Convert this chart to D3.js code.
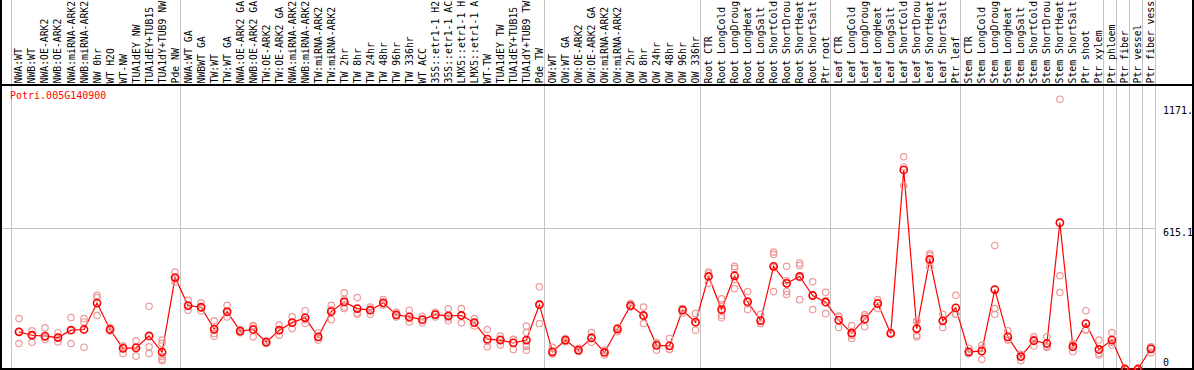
<!DOCTYPE html>
<html>
<head>
<meta charset="utf-8">
<script src="https://cdn.jsdelivr.net/npm/d3@7"></script>
<style>
  body { margin: 0; background: #fff; }
  svg { display: block; }
  text { font-family: "DejaVu Sans Mono", monospace; font-size: 10px; }
</style>
</head>
<body>
<script>
// sample names, one per column
const samples = [
  "NWA:WT", "NWB:WT", "NWA:OE-ARK2", "NWB:OE-ARK2", "NWA:miRNA-ARK2", "NWB:miRNA-ARK2",
  "NW 0hr", "WT H2O", "WT-NW", "TUA1dEY NW", "TUA1dEY+TUB15 NW", "TUA1dY+TUB9 NW", "Pde NW",
  "NWA:WT GA", "NWBWT GA", "TW:WT", "TW:WT GA", "NWA:OE-ARK2 GA", "NWB:OE-ARK2 GA",
  "TW:OE-ARK2", "TW:OE-ARK2 GA", "NWA:miRNA-ARK2", "NWB:miRNA-ARK2", "TW:miRNA-ARK2",
  "TW:miRNA-ARK2", "TW 2hr", "TW 8hr", "TW 24hr", "TW 48hr", "TW 96hr", "TW 336hr", "WT ACC",
  "35S::etr1-1 H2O", "35S::etr1-1 ACC", "LMX5::etr1-1 H2O", "LMX5::etr1-1 ACC", "WT-TW",
  "TUA1dEY TW", "TUA1dEY+TUB15 TW", "TUA1dY+TUB9 TW", "Pde TW",
  "OW:WT", "OW:WT GA", "OW:OE-ARK2", "OW:OE-ARK2 GA", "OW:miRNA-ARK2", "OW:miRNA-ARK2",
  "OW 2hr", "OW 8hr", "OW 24hr", "OW 48hr", "OW 96hr", "OW 336hr",
  "Root CTR", "Root LongCold", "Root LongDrought", "Root LongHeat", "Root LongSalt",
  "Root ShortCold", "Root ShortDrought", "Root ShortHeat", "Root ShortSalt", "Ptr root",
  "Leaf CTR", "Leaf LongCold", "Leaf LongDrought", "Leaf LongHeat", "Leaf LongSalt",
  "Leaf ShortCold", "Leaf ShortDrought", "Leaf ShortHeat", "Leaf ShortSalt", "Ptr leaf",
  "Stem CTR", "Stem LongCold", "Stem LongDrought", "Stem LongHeat", "Stem LongSalt",
  "Stem ShortCold", "Stem ShortDrought", "Stem ShortHeat", "Stem ShortSalt", "Ptr shoot",
  "Ptr xylem", "Ptr phloem", "Ptr fiber", "Ptr vessel", "Ptr fiber vessel"
];

// columns where a new experiment group starts (plus the end)
const groupBreaks = [0, 13, 41, 53, 63, 73, 84, 85, 86, 87, 88];

// mean expression per sample
const means = [
  162, 147, 143, 137, 169, 172, 287, 172, 90, 92, 144, 74, 398,
  276, 269, 174, 250, 165, 172, 117, 169, 202, 223, 140, 250, 292, 263, 256, 288, 236,
  227, 215, 237, 231, 233, 202, 130, 126, 114, 126, 280,
  75, 126, 82, 136, 72, 174, 276, 233, 103, 101, 256, 204,
  403, 259, 406, 293, 211, 447, 373, 403, 320, 291,
  213, 156, 217, 285, 155, 867, 176, 477, 210, 266,
  75, 78, 346, 140, 54, 123, 111, 637, 97, 198, 85,
  126, 0, 0, 88
];

// replicate values per sample
const replicates = [
  [220, 111, 162], [166, 116, 150], [179, 129, 137], [158, 137, 118], [224, 170, 111],
  [220, 205, 95], [321, 311, 233], [181, 165, 172], [100, 100, 68], [123, 98, 56],
  [273, 97, 68], [126, 112, 54, 42, 36], [422, 393, 379],
  [299, 273, 256], [288, 266, 253], [210, 168, 155, 143], [277, 246, 227], [172, 165, 158],
  [189, 186, 140], [123, 117, 111], [191, 169, 147], [227, 203, 176], [254, 215, 198],
  [158, 137, 126], [277, 258, 215], [332, 303, 270, 263], [311, 244, 238], [270, 260, 238],
  [302, 285, 278], [247, 234, 227], [256, 220, 205], [230, 215, 201], [247, 237, 227],
  [262, 222, 210], [263, 235, 201], [220, 200, 187], [172, 121, 97], [143, 130, 104],
  [129, 128, 85], [187, 159, 104, 98, 82], [358, 284, 198],
  [94, 66, 65], [133, 126, 119], [90, 82, 75], [159, 134, 116], [82, 74, 61],
  [181, 178, 162], [285, 273, 270], [270, 231, 198], [115, 111, 82], [133, 86, 85],
  [263, 261, 244], [241, 202, 169],
  [422, 415, 373], [306, 273, 234, 223], [447, 437, 390, 350], [337, 284, 259],
  [238, 198, 198], [509, 499, 443, 337], [447, 384, 337, 324], [461, 451, 398, 302],
  [380, 321, 259], [334, 298, 241],
  [231, 227, 181], [189, 146, 133], [237, 230, 184], [302, 290, 263], [158, 155, 152],
  [924, 880, 798], [210, 208, 147, 140], [502, 494, 468, 444], [238, 211, 181], [321, 239, 238],
  [90, 68, 67], [103, 89, 42], [538, 263, 238], [166, 128, 126], [64, 62, 36],
  [140, 129, 100], [140, 99, 94], [1175, 406, 333], [111, 105, 75], [254, 171, 169],
  [126, 68, 61],
  [159, 115, 104], [0, 0], [0, 0], [97, 96, 71]
];

const geneName = "Potri.005G140900";
const yMax = 1171.5;
const yTicks = [0, 615.1, 1171.5];
const yTickLabels = ["0", "615.1", "1171."];

const width = 1194, height = 370;
const headerY = 85, bottomY = 369, rightX = 1155;
const maxChars = 14; // header only has room for this many

const svg = d3.select("body").append("svg")
  .attr("width", width)
  .attr("height", height);

const x = d3.scaleBand()
  .domain(d3.range(samples.length))
  .range([10.5, rightX + 0.5]);

const px = i => x(i) + x.bandwidth() * 0.65;

const y = d3.scaleLinear()
  .domain([0, yMax])
  .range([bottomY, 100]);

// grey group separators, running through the header too
svg.append("g")
  .attr("stroke", "#c4c4c4")
  .attr("stroke-width", 1)
  .selectAll("line")
  .data(groupBreaks)
  .join("line")
    .attr("x1", d => Math.round(d === samples.length ? rightX : x(d)) + 0.5)
    .attr("x2", d => Math.round(d === samples.length ? rightX : x(d)) + 0.5)
    .attr("y1", 0)
    .attr("y2", bottomY);

// middle grid line
svg.append("line")
  .attr("x1", 1).attr("x2", rightX)
  .attr("y1", Math.round(y(yTicks[1])) + 0.5)
  .attr("y2", Math.round(y(yTicks[1])) + 0.5)
  .attr("stroke", "#c4c4c4");

// black frame + header rule
const frame = svg.append("g").attr("stroke", "#000").attr("stroke-width", 2);
frame.append("line").attr("x1", 1).attr("x2", 1).attr("y1", 0).attr("y2", bottomY);
frame.append("line").attr("x1", width - 1).attr("x2", width - 1).attr("y1", 0).attr("y2", bottomY);
frame.append("line").attr("x1", 0).attr("x2", width).attr("y1", headerY).attr("y2", headerY);
frame.append("line").attr("x1", 0).attr("x2", width).attr("y1", bottomY).attr("y2", bottomY);

// sample labels, rotated, cut to what fits in the header
svg.append("g")
  .selectAll("text")
  .data(samples)
  .join("text")
    .attr("transform", (d, i) => `translate(${px(i) + 3.5},${headerY - 1.5}) rotate(-90)`)
    .attr("fill", "#000")
    .style("font-size", "9.8px")
    .text(d => d.slice(0, maxChars));

// gene name
svg.append("text")
  .attr("x", 10)
  .attr("y", 99)
  .attr("fill", "#ff0000")
  .text(geneName);

// right side value labels
svg.append("g")
  .selectAll("text")
  .data(yTicks)
  .join("text")
    .attr("x", 1163)
    .attr("y", d => Math.min(Math.max(y(d) + 8.5, 114), 366))
    .attr("fill", "#000")
    .text((d, i) => yTickLabels[i]);

// mean line
const line = d3.line()
  .x((d, i) => px(i))
  .y(d => y(d));

svg.append("path")
  .datum(means)
  .attr("fill", "none")
  .attr("stroke", "#ff0000")
  .attr("stroke-width", 1.2)
  .attr("d", line);

// replicate points
const repPoints = replicates.flatMap((r, i) => r.map(v => ({ i, v })));
svg.append("g")
  .attr("fill", "none")
  .attr("stroke", "#ec9a9a")
  .attr("stroke-width", 1.2)
  .selectAll("circle")
  .data(repPoints)
  .join("circle")
    .attr("cx", d => px(d.i))
    .attr("cy", d => y(d.v))
    .attr("r", 3.2);

// mean points
svg.append("g")
  .attr("fill", "none")
  .attr("stroke", "#ff0000")
  .attr("stroke-width", 1.6)
  .selectAll("circle")
  .data(means)
  .join("circle")
    .attr("cx", (d, i) => px(i))
    .attr("cy", d => y(d))
    .attr("r", 3.6);
</script>
</body>
</html>
